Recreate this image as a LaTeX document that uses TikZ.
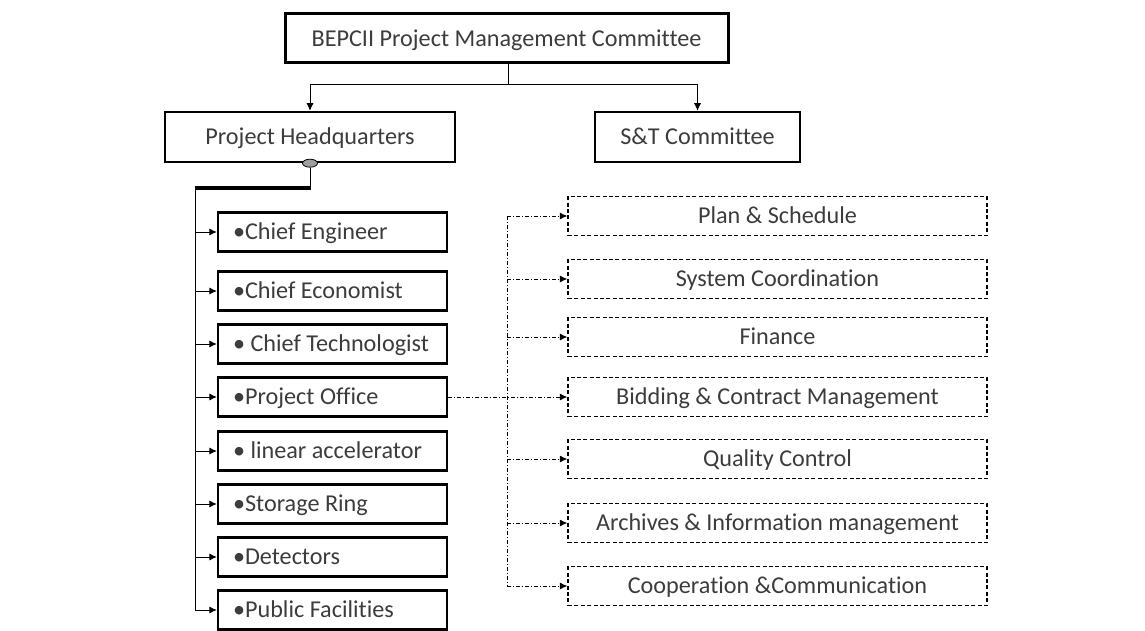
\documentclass[tikz,border=0pt]{standalone}
\usepackage{fontspec}
\setmainfont{Carlito}[Ligatures={NoCommon}]
\usetikzlibrary{arrows.meta,shapes.geometric,positioning}
\definecolor{TextGray}{HTML}{3C3C3C}
\colorlet{KnotFill}{gray!75}
\newcommand{\roletext}[1]{\makebox[99.5pt][l]{#1}}

\begin{document}
\begin{tikzpicture}[x=0.5pt, y=-0.5pt,
    font=\fontsize{12.1}{14}\selectfont, text=TextGray,
    boxtext/.style={text height=7.9pt, text depth=0pt},
    headbox/.style={boxtext, draw, line width=1.5pt, minimum width=221.5pt, minimum height=24.5pt, inner sep=0pt},
    mainbox/.style={boxtext, draw, line width=1.2pt, minimum height=25pt, inner sep=0pt},
    rolebox/.style={boxtext, draw, line width=1.1pt, minimum width=114.5pt, minimum height=19.5pt, inner xsep=7.5pt, inner ysep=0pt},
    officebox/.style={boxtext, draw, line width=0.6pt, dash pattern=on 2pt off 1.2pt, minimum width=209.5pt, minimum height=19.5pt, inner sep=0pt},
    knot/.style={ellipse, draw, fill=KnotFill, line width=0.4pt, minimum width=7.5pt, minimum height=4pt, inner sep=0pt},
    tip/.style={-{Latex[length=3.8pt, width=3.6pt]}},
    link/.style={line width=0.5pt},
    dashlink/.style={line width=0.5pt, dash pattern=on 2pt off 1pt on 0.5pt off 1pt}]

    \useasboundingbox (0,0) rectangle (1145,631);

    % Comité y cuartel general

    \node[headbox] (pmc) at (506.5,38.5) {BEPCII Project Management Committee};
    \node[mainbox, minimum width=145pt] (phq) at (310,137) {Project Headquarters};
    \node[mainbox, minimum width=102.5pt] (st) at (697.5,137) {S\&T Committee};

    \coordinate (split) at (508,85);
    \draw[link] (pmc.south -| split) -- (split);
    \draw[link, tip] (split) -| (phq.north);
    \draw[link, tip] (split) -| (st.north);

    % Cargos

    \node[rolebox] (ce)  at (332.5,232) {\roletext{•Chief Engineer}};
    \node[rolebox] (cec) at (332.5,291) {\roletext{•Chief Economist}};
    \node[rolebox] (ct)  at (332.5,344) {\roletext{• Chief Technologist}};
    \node[rolebox] (po)  at (332.5,397) {\roletext{•Project Office}};
    \node[rolebox] (la)  at (332.5,451) {\roletext{• linear accelerator}};
    \node[rolebox] (sr)  at (332.5,504) {\roletext{•Storage Ring}};
    \node[rolebox] (det) at (332.5,557) {\roletext{•Detectors}};
    \node[rolebox] (pf)  at (332.5,610) {\roletext{•Public Facilities}};

    \node[knot] (knot) at (phq.south) {};
    \coordinate (busTop) at (195,188);
    \draw[link] (knot) -- (knot |- busTop);
    \draw[line width=2pt] ([xshift=0.6pt]knot |- busTop) -- (busTop);
    \draw[link, tip] (busTop) |- (pf.west);
    \foreach \n in {ce,cec,ct,po,la,sr,det}
        \draw[link, tip] (busTop |- \n.west) -- (\n.west);

    % Oficinas

    \node[officebox] (plan) at (777.5,216) {Plan \& Schedule};
    \node[officebox] (sys)  at (777.5,279) {System Coordination};
    \node[officebox] (fin)  at (777.5,337) {Finance};
    \node[officebox] (bid)  at (777.5,397) {Bidding \& Contract Management};
    \node[officebox] (qc)   at (777.5,459) {Quality Control};
    \node[officebox] (arch) at (777.5,523) {Archives \& Information management};
    \node[officebox] (coop) at (777.5,586) {Cooperation \&Communication};

    \coordinate (spine) at (507,397);
    \draw[dashlink] (spine |- plan.west) -- (spine |- coop.west);
    \draw[dashlink, tip] (po.east) -- (bid.west);
    \foreach \n in {plan,sys,fin,qc,arch,coop}
        \draw[dashlink, tip] (spine |- \n.west) -- (\n.west);

\end{tikzpicture}
\end{document}
